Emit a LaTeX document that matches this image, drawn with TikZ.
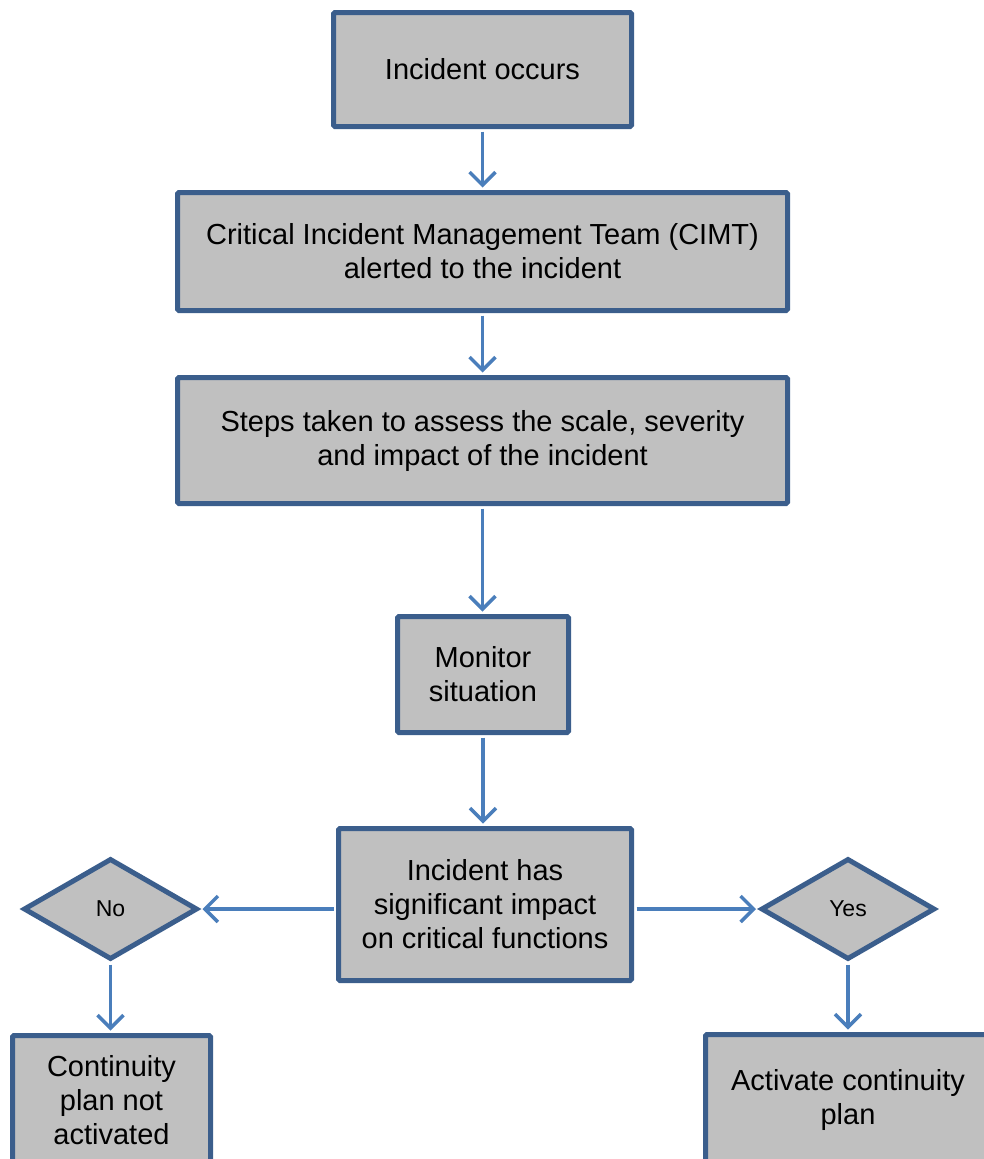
\documentclass[tikz,border=0pt]{standalone}
\usepackage{fontspec}
\setmainfont{Liberation Sans}
\usetikzlibrary{shapes.geometric,arrows.meta}
\definecolor{boxfill}{HTML}{C0C0C0}
\definecolor{boxline}{HTML}{3B5E8C}
\definecolor{flowline}{HTML}{4A7EBB}

\begin{document}
\begin{tikzpicture}[x=1pt,y=-1pt,
  stage/.style={draw=boxline,line width=5pt,fill=boxfill,rounded corners=1.5pt,
    align=center,inner sep=0pt,font=\fontsize{29}{34}\selectfont},
  choice/.style={diamond,draw=boxline,line width=5pt,fill=boxfill,
    inner sep=0pt,font=\fontsize{23}{27}\selectfont},
  flow/.style={draw=flowline,line width=3.5pt,shorten <=2.5pt,shorten >=2.5pt,
    -{Straight Barb[length=13pt,width=26pt]}}]
\useasboundingbox (0,0) rectangle (984,1159);
\clip (0,0) rectangle (984,1159);

% main steps down the middle
\node[stage,minimum width=298pt,minimum height=114pt] (occurs) at (482.5,69.5) {Incident occurs};
\node[stage,minimum width=610pt,minimum height=118pt] (cimt) at (482.5,251.5) {Critical Incident Management Team (CIMT)\\alerted to the incident};
\node[stage,minimum width=610pt,minimum height=126pt] (assess) at (482.5,440.5) {Steps taken to assess the scale, severity\\and impact of the incident};
\node[stage,minimum width=171pt,minimum height=116pt] (monitor) at (483,674.5) {Monitor\\situation};
\node[stage,minimum width=293pt,minimum height=152pt] (impact) at (485,904.5) {Incident has\\significant impact\\on critical functions};

% the two answers
\node[choice,minimum width=174pt,minimum height=101pt] (no) at (110.5,909) {No};
\node[choice,minimum width=174pt,minimum height=101pt] (yes) at (848,909) {Yes};

% outcomes (cut off at the bottom)
\node[stage,minimum width=198pt,minimum height=129pt] (notact) at (111.5,1100) {Continuity\\plan not\\activated};
\node[stage,minimum width=285pt,minimum height=131pt] (activate) at (848,1100) {Activate continuity\\plan};

% connectors
\foreach \a/\b in {occurs/cimt,cimt/assess,assess/monitor,no/notact,yes/activate}
\draw[flow] (\a.south) -- (\a.south |- \b.north);
\draw[flow] (monitor.south) -- (monitor.south |- impact.north);
\draw[flow] (impact.west |- no.east) -- (no.east);
\draw[flow] (impact.east |- yes.west) -- (yes.west);

\end{tikzpicture}
\end{document}
